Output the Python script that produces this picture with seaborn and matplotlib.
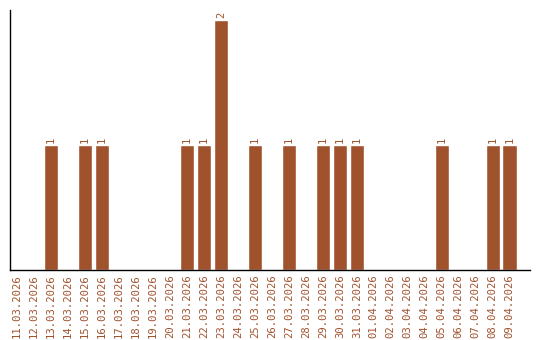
import matplotlib
matplotlib.use("Agg")
import matplotlib.pyplot as plt
import seaborn as sns
import pandas as pd

dates = ["11.03.2026", "12.03.2026", "13.03.2026", "14.03.2026", "15.03.2026",
         "16.03.2026", "17.03.2026", "18.03.2026", "19.03.2026", "20.03.2026",
         "21.03.2026", "22.03.2026", "23.03.2026", "24.03.2026", "25.03.2026",
         "26.03.2026", "27.03.2026", "28.03.2026", "29.03.2026", "30.03.2026",
         "31.03.2026", "01.04.2026", "02.04.2026", "03.04.2026", "04.04.2026",
         "05.04.2026", "06.04.2026", "07.04.2026", "08.04.2026", "09.04.2026"]
counts = [0, 0, 1, 0, 1, 1, 0, 0, 0, 0,
          1, 1, 2, 0, 1, 0, 1, 0, 1, 1,
          1, 0, 0, 0, 0, 1, 0, 0, 1, 1]

color = "#A0522D"
df = pd.DataFrame({"date": dates, "count": counts})

sns.set_style("white")
fig = plt.figure(figsize=(5.4, 3.4), dpi=100)
ax = fig.add_axes([10/540, 70/340, 520/540, 260/340])
sns.barplot(data=df, x="date", y="count", order=dates, color=color,
            saturation=1, width=0.84, ax=ax)

for i, v in enumerate(counts):
    if v > 0:
        ax.text(i, v + 0.02, str(v), rotation=90, ha="center", va="bottom",
                color=color, fontsize=7.5, family="DejaVu Sans Mono")

ax.set_xlim(-0.42, 30.2)
ax.set_ylim(0, 2.08)
ax.set_xlabel("")
ax.set_ylabel("")
ax.set_yticks([])
ax.tick_params(axis="x", length=0, pad=3)
for lbl in ax.get_xticklabels():
    lbl.set_rotation(90)
    lbl.set_color(color)
    lbl.set_fontsize(7.6)
    lbl.set_family("DejaVu Sans Mono")
for s in ["top", "right"]:
    ax.spines[s].set_visible(False)
for s in ["left", "bottom"]:
    ax.spines[s].set_color("black")
    ax.spines[s].set_linewidth(1)

fig.savefig("out.png", dpi=100)
